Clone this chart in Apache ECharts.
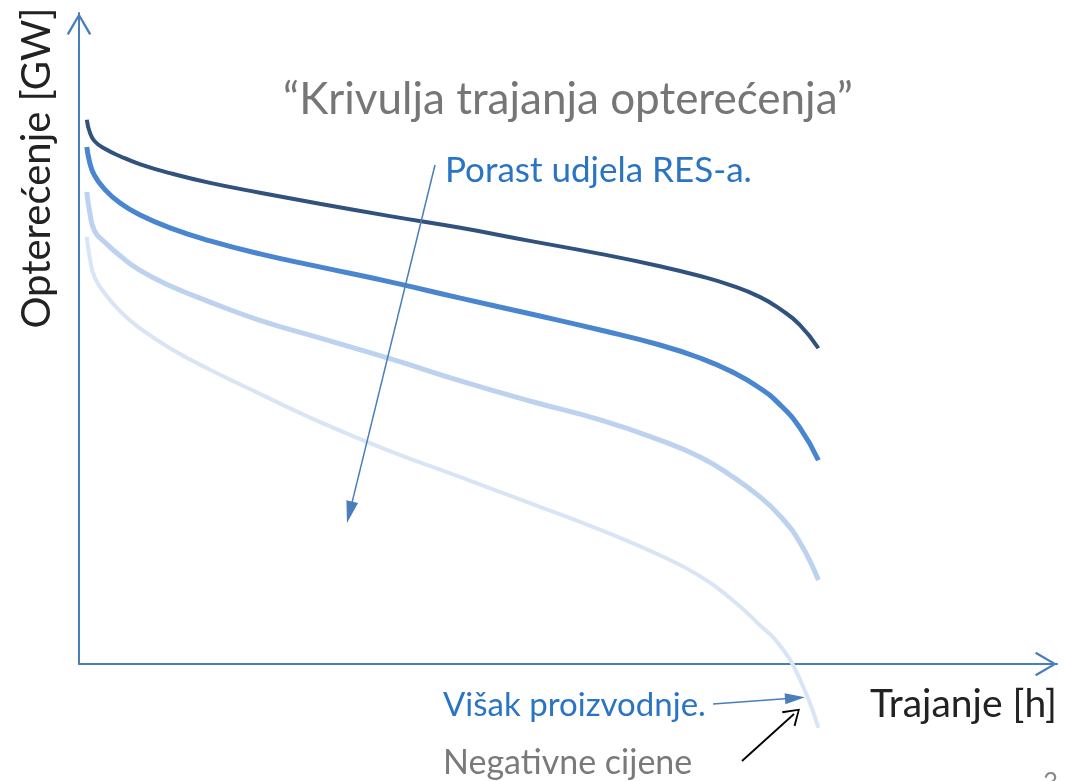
<!DOCTYPE html>
<html><head><meta charset="utf-8">
<script src="https://cdn.jsdelivr.net/npm/echarts@6/dist/echarts.min.js"></script>
<style>html,body{margin:0;padding:0;background:#fff}#c{width:1065px;height:781px}</style>
</head><body><div id="c"></div>
<script>
// Duration (abstract units of the time axis)
const hours = [0.8, 1.1, 1.6, 2.7, 4.2, 6.2, 9.3, 13.4, 18.5, 24.6, 31.8, 39.0, 46.1, 53.3, 59.4, 63.5, 66.6, 69.6, 71.7, 73.7, 75.6];
// Load (abstract units) for increasing RES share
const loadBase = [83.6, 81.7, 80.3, 79.1, 78.0, 76.8, 75.4, 73.9, 72.4, 70.7, 68.8, 67.0, 65.0, 63.0, 61.1, 59.6, 58.2, 56.4, 54.5, 52.1, 48.5];
const loadRes1 = [79.4, 77.0, 75.0, 72.8, 70.8, 69.0, 67.0, 65.0, 63.0, 61.0, 58.7, 56.2, 53.8, 51.3, 49.0, 47.0, 45.0, 42.4, 39.8, 36.3, 31.3];
const loadRes2 = [72.5, 69.4, 66.5, 64.7, 62.7, 60.5, 58.1, 55.6, 52.8, 50.1, 46.9, 43.5, 40.4, 37.5, 34.4, 31.8, 29.0, 25.7, 22.7, 18.7, 12.9];
const loadRes3 = [65.6, 62.4, 59.4, 56.8, 54.2, 51.6, 48.5, 45.2, 41.5, 37.2, 32.7, 28.7, 24.7, 20.6, 16.7, 13.5, 10.1, 6.0, 2.8, -2.3, -9.8];
// Annotation arrows (data units)
const resArrow = [[36.4, 76.65], [27.67, 23.3]];
const surplusArrow = [[64.83, -6.14], [73.21, -5.22]];
const priceArrow = [[67.79, -14.9], [73.11, -7.68]];
// Texts
const titleText = '\u201cKrivulja trajanja optere\u0107enja\u201d';
const yName = 'Optere\u0107enje [GW]';
const xName = 'Trajanje [h]';
const resText = 'Porast udjela RES-a.';
const surplusText = 'Vi\u0161ak proizvodnje.';
const priceText = 'Negativne cijene';
const pageText = '3';

const chevron = 'path://M10,0 L20,17 L18.3,18 L10,3.4 L1.7,18 L0,17 Z';
const axisColor = '#4a7ebb';
const FONT = 'Lato, "Open Sans", sans-serif';

function pts(ys) { return hours.map((h, i) => [h, ys[i]]); }
function curve(name, ys, color, width) {
  return { name, type: 'line', data: pts(ys), showSymbol: false, symbol: 'none',
    smooth: 0.5, clip: false, silent: true,
    lineStyle: { color, width, cap: 'butt' }, z: 2 };
}

const chart = echarts.init(document.getElementById('c'), null, { renderer: 'canvas' });
chart.setOption({
  animation: false,
  backgroundColor: '#ffffff',
  grid: { left: 79, right: 8, top: 13, bottom: 117 },
  xAxis: { type: 'value', min: 0, max: 100,
    axisLine: { show: true, onZero: true, lineStyle: { color: axisColor, width: 2 },
      symbol: ['none', chevron], symbolSize: [26, 22], symbolOffset: [0, -11] },
    axisTick: { show: false }, axisLabel: { show: false }, splitLine: { show: false } },
  yAxis: { type: 'value', min: 0, max: 100,
    axisLine: { show: true, lineStyle: { color: axisColor, width: 2 },
      symbol: ['none', chevron], symbolSize: [26, 22], symbolOffset: [0, -11] },
    axisTick: { show: false }, axisLabel: { show: false }, splitLine: { show: false } },
  series: [
    curve('base', loadBase, '#30527d', 4),
    curve('res1', loadRes1, '#4a86cf', 5),
    curve('res2', loadRes2, '#bcd2ee', 5),
    curve('res3', loadRes3, '#d9e5f4', 4),
    { type: 'lines', coordinateSystem: 'cartesian2d', clip: false, silent: true, z: 5,
      symbol: ['none', 'triangle'], symbolSize: [1, [12, 22]],
      lineStyle: { color: axisColor, width: 1.5, opacity: 1, curveness: 0 },
      data: [{ coords: resArrow }] },
    { type: 'lines', coordinateSystem: 'cartesian2d', clip: false, silent: true, z: 5,
      symbol: ['none', 'triangle'], symbolSize: [1, [11, 20]],
      lineStyle: { color: axisColor, width: 1.5, opacity: 1, curveness: 0 },
      data: [{ coords: surplusArrow }] },
    { type: 'lines', coordinateSystem: 'cartesian2d', clip: false, silent: true, z: 5,
      symbol: ['none', chevron], symbolSize: [1, [20, 16]],
      lineStyle: { color: '#000000', width: 1.8, opacity: 1, curveness: 0 },
      data: [{ coords: priceArrow }] }
  ],
  graphic: [
    { type: 'text', x: 568, y: 100, silent: true,
      style: { text: titleText, font: '44px ' + FONT, fill: '#767676', align: 'center', verticalAlign: 'middle' } },
    { type: 'text', x: 37, y: 168, rotation: Math.PI / 2, silent: true,
      style: { text: yName, font: '40px ' + FONT, fill: '#222222', align: 'center', verticalAlign: 'middle' } },
    { type: 'text', x: 1057, y: 704, silent: true,
      style: { text: xName, font: '39px ' + FONT, fill: '#222222', align: 'right', verticalAlign: 'middle' } },
    { type: 'text', x: 445, y: 171, silent: true,
      style: { text: resText, font: '35px ' + FONT, fill: '#2a74c4', align: 'left', verticalAlign: 'middle' } },
    { type: 'text', x: 443, y: 705, silent: true,
      style: { text: surplusText, font: '33px ' + FONT, fill: '#2a74c4', align: 'left', verticalAlign: 'middle' } },
    { type: 'text', x: 443, y: 763, silent: true,
      style: { text: priceText, font: '34px ' + FONT, fill: '#7a7a7a', align: 'left', verticalAlign: 'middle' } },
    { type: 'text', x: 1043, y: 771, silent: true,
      style: { text: pageText, font: '26px ' + FONT, fill: '#8a8a8a', align: 'left', verticalAlign: 'top' } }
  ]
});
</script></body></html>
